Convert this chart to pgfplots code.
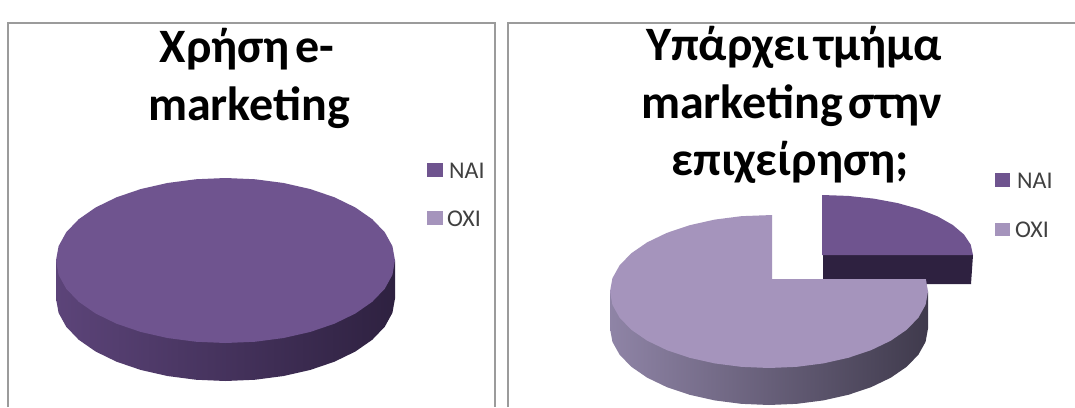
\documentclass[border=0pt]{standalone}
\usepackage{pgfplots}
\usepackage{pgfplotstable}
\usepackage{fontspec}
\setmainfont[WordSpace=0.5]{Carlito}
\pgfplotsset{compat=1.18}

\definecolor{naitop}{HTML}{6F548F}
\definecolor{oxitop}{HTML}{A594BC}
\definecolor{naidark}{HTML}{2E2140}
\definecolor{naiwallA}{HTML}{5C4479}
\definecolor{naiwallB}{HTML}{402E58}
\definecolor{oxiwallA}{HTML}{8F84A6}
\definecolor{oxiwallB}{HTML}{5D5470}
\definecolor{oxiwallC}{HTML}{3F3A4C}
\definecolor{frameline}{HTML}{9B9B9B}
\definecolor{legendtext}{HTML}{404040}

% Whole disc, unit circle in 10 degree steps
\pgfplotstableread{
c s
1.0000 0.0000
0.9848 0.1736
0.9397 0.3420
0.8660 0.5000
0.7660 0.6428
0.6428 0.7660
0.5000 0.8660
0.3420 0.9397
0.1736 0.9848
0.0000 1.0000
-0.1736 0.9848
-0.3420 0.9397
-0.5000 0.8660
-0.6428 0.7660
-0.7660 0.6428
-0.8660 0.5000
-0.9397 0.3420
-0.9848 0.1736
-1.0000 0.0000
-0.9848 -0.1736
-0.9397 -0.3420
-0.8660 -0.5000
-0.7660 -0.6428
-0.6428 -0.7660
-0.5000 -0.8660
-0.3420 -0.9397
-0.1736 -0.9848
0.0000 -1.0000
0.1736 -0.9848
0.3420 -0.9397
0.5000 -0.8660
0.6428 -0.7660
0.7660 -0.6428
0.8660 -0.5000
0.9397 -0.3420
0.9848 -0.1736
}\fulldisc

% Side wall: front half of the rim, d = 1 on the lower edge
\pgfplotstableread{
c s d
-1.0000 0.0000 0
-1.0000 0.0000 1
-0.9848 -0.1736 1
-0.9397 -0.3420 1
-0.8660 -0.5000 1
-0.7660 -0.6428 1
-0.6428 -0.7660 1
-0.5000 -0.8660 1
-0.3420 -0.9397 1
-0.1736 -0.9848 1
0.0000 -1.0000 1
0.1736 -0.9848 1
0.3420 -0.9397 1
0.5000 -0.8660 1
0.6428 -0.7660 1
0.7660 -0.6428 1
0.8660 -0.5000 1
0.9397 -0.3420 1
0.9848 -0.1736 1
1.0000 0.0000 1
1.0000 0.0000 0
}\rimfront

% 75 % slice, running counter-clockwise from the cut at the top
\pgfplotstableread{
c s
0.0190 0.1630
0.0190 0.9998
-0.1736 0.9848
-0.3420 0.9397
-0.5000 0.8660
-0.6428 0.7660
-0.7660 0.6428
-0.8660 0.5000
-0.9397 0.3420
-0.9848 0.1736
-1.0000 0.0000
-0.9848 -0.1736
-0.9397 -0.3420
-0.8660 -0.5000
-0.7660 -0.6428
-0.6428 -0.7660
-0.5000 -0.8660
-0.3420 -0.9397
-0.1736 -0.9848
0.0000 -1.0000
0.1736 -0.9848
0.3420 -0.9397
0.5000 -0.8660
0.6428 -0.7660
0.7660 -0.6428
0.8660 -0.5000
0.9397 -0.3420
0.9848 -0.1736
1.0000 0.0000
0.9866 0.1630
}\oxislice

% 25 % slice, pulled out of the pie
\pgfplotstableread{
c s
0.0000 0.0000
1.0000 0.0000
0.9848 0.1736
0.9397 0.3420
0.8660 0.5000
0.7660 0.6428
0.6428 0.7660
0.5000 0.8660
0.3420 0.9397
0.1736 0.9848
0.0000 1.0000
}\naislice

\begin{document}
\begin{tikzpicture}
\begin{axis}[
  width=1075pt, height=407pt, scale only axis,
  xmin=0, xmax=1075, ymin=0, ymax=407, y dir=reverse,
  axis lines=none, clip=true,
]
  % canvas, fixes the extent of the page
  \addplot[draw=none, fill=white] coordinates {(0,0) (1075,0) (1075,407) (0,407)} -- cycle;

  % panel frames
  \addplot[frameline, line width=2pt] coordinates {(8,407) (8,22.5) (495,22.5) (495,407)};
  \addplot[frameline, line width=2pt] coordinates {(508,407) (508,22.5) (1075,22.5)};

  % first pie: NAI 100 %, OXI 0 %
  \addplot[draw=none, left color=naiwallA, middle color=naiwallB, right color=naidark]
    table[x expr={225.5+169.5*\thisrow{c}}, y expr={260.5-82.5*\thisrow{s}+38*\thisrow{d}}] {\rimfront} -- cycle;
  \addplot[draw=none, fill=naitop]
    table[x expr={225.5+169.5*\thisrow{c}}, y expr={260.5-82.5*\thisrow{s}}] {\fulldisc} -- cycle;

  % second pie: NAI 25 %, OXI 75 %
  \addplot[draw=none, fill=naidark] coordinates {(823,255) (973,255) (971,284) (823,284)} -- cycle;
  \addplot[draw=none, fill=naitop]
    table[x expr={822+151*\thisrow{c}}, y expr={255-60*\thisrow{s}}] {\naislice} -- cycle;
  \addplot[draw=none, left color=oxiwallA, middle color=oxiwallB, right color=oxiwallC]
    table[x expr={769+159*\thisrow{c}}, y expr={291.5-76.5*\thisrow{s}+37*\thisrow{d}}] {\rimfront} -- cycle;
  \addplot[draw=none, fill=oxitop]
    table[x expr={769+159*\thisrow{c}}, y expr={291.5-76.5*\thisrow{s}}] {\oxislice} -- cycle;

  % legend keys
  \addplot[draw=none, fill=naitop] coordinates {(427,163) (443,163) (443,177) (427,177)} -- cycle;
  \addplot[draw=none, fill=oxitop] coordinates {(427,211) (443,211) (443,225) (427,225)} -- cycle;
  \addplot[draw=none, fill=naitop] coordinates {(995,173) (1010,173) (1010,187) (995,187)} -- cycle;
  \addplot[draw=none, fill=oxitop] coordinates {(995,223) (1010,223) (1010,236) (995,236)} -- cycle;

  % legend texts
  \node[anchor=base west, text=legendtext, font=\fontsize{24}{24}\selectfont, inner sep=0pt] at (axis cs:449,178) {ΝΑΙ};
  \node[anchor=base west, text=legendtext, font=\fontsize{24}{24}\selectfont, inner sep=0pt] at (axis cs:447,226) {ΌΧΙ};
  \node[anchor=base west, text=legendtext, font=\fontsize{24}{24}\selectfont, inner sep=0pt] at (axis cs:1017,188) {ΝΑΙ};
  \node[anchor=base west, text=legendtext, font=\fontsize{24}{24}\selectfont, inner sep=0pt] at (axis cs:1015,237) {ΌΧΙ};

  % titles
  \node[anchor=base, font=\fontsize{48}{48}\selectfont\bfseries, inner sep=0pt] at (axis cs:247,62) {Χρήση e-};
  \node[anchor=base, font=\fontsize{48}{48}\selectfont\bfseries, inner sep=0pt] at (axis cs:249,120) {marketing};
  \node[anchor=base, font=\fontsize{48}{48}\selectfont\bfseries, inner sep=0pt] at (axis cs:794,60) {Υπάρχει τμήμα};
  \node[anchor=base, font=\fontsize{48}{48}\selectfont\bfseries, inner sep=0pt] at (axis cs:791.5,118) {marketing στην};
  \node[anchor=base, font=\fontsize{48}{48}\selectfont\bfseries, inner sep=0pt] at (axis cs:790,175) {επιχείρηση;};
\end{axis}
\end{tikzpicture}
\end{document}
